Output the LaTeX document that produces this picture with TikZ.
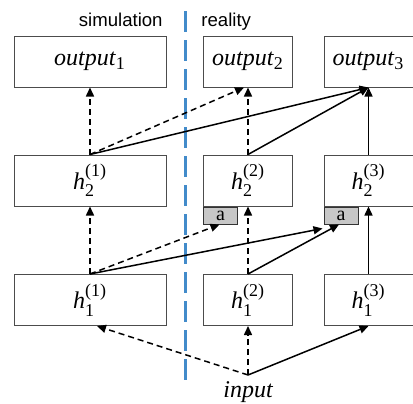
\documentclass[tikz,border=0pt]{standalone}
\usepackage{amsmath}
\usepackage{fontspec}
\setmainfont{Liberation Serif}
\setsansfont{Liberation Sans}
\usetikzlibrary{arrows.meta}

\newcommand{\up}[1]{\mbox{\fontsize{9}{9}\selectfont\upshape #1}}

\begin{document}
\begin{tikzpicture}[x=0.5pt, y=-0.5pt,
  % Node styles
  ob/.style={draw=black!70, line width=0.5pt, minimum width=76pt, minimum height=25.5pt,
             font=\fontsize{12}{14}\selectfont, fill=white, inner sep=0pt},
  nb/.style={ob, minimum width=44.5pt},
  ad/.style={draw=black!80, line width=0.5pt, fill=black!22, minimum width=17pt,
             minimum height=8.5pt, inner sep=0pt, font=\fontsize{10}{10}\selectfont},
  % Arrow styles (simulated paths dashed, real paths solid)
  real/.style={-{Triangle[length=4.5pt, width=4pt]}, line width=0.75pt, black},
  sim/.style={real, dash pattern=on 3pt off 2pt},
  % Label style
  lbl/.style={font=\sffamily\fontsize{9.3}{11}\selectfont, inner sep=0pt},
  divider/.style={line width=1.5pt, color={rgb,255:red,66;green,139;blue,202},
                  dash pattern=on 10.5pt off 4pt},
]
\useasboundingbox (0,0) rectangle (413,403);

% === Divider between simulation and reality ===
\coordinate (dtop) at (185,11);
\coordinate (dbot) at (185,382);
\draw[divider] (dtop) -- (dbot);
\node[lbl, anchor=base east] (simlbl) at (163,26) {simulation};
\node[lbl, anchor=base west] (reallbl) at (201,26) {reality};

% === Row 1: outputs ===
\node[ob] (out1) at (90, 61.5)  {\textit{output}$_{\up{1}}$};
\node[nb] (out2) at (248, 61.5) {\textit{output}$_{\up{2}}$};
\node[nb] (out3) at (368.5, 61.5) {\textit{output}$_{\up{3}}$};

% === Row 2: second layer ===
\node[ob] (h21) at (90, 180.5)  {$\textit{h}_{\up{2}}^{\up{(1)}}$};
\node[nb] (h22) at (248, 180.5) {$\textit{h}_{\up{2}}^{\up{(2)}}$};
\node[nb] (h23) at (368.5, 180.5) {$\textit{h}_{\up{2}}^{\up{(3)}}$};

% adapters
\node[ad, anchor=north west] (a2) at (h22.south west) {a};
\node[ad, anchor=north west] (a3) at (h23.south west) {a};

% === Row 3: first layer ===
\node[ob] (h11) at (90, 300)  {$\textit{h}_{\up{1}}^{\up{(1)}}$};
\node[nb] (h12) at (248, 300) {$\textit{h}_{\up{1}}^{\up{(2)}}$};
\node[nb] (h13) at (368.5, 300) {$\textit{h}_{\up{1}}^{\up{(3)}}$};

% input
\node[font=\fontsize{12}{14}\selectfont\itshape, inner sep=3pt, anchor=north] (in) at (248,375) {input};

% === input -> first layer ===
\draw[sim]  (in.north) -- ([xshift=3.5pt]h11.south);
\draw[sim]  (in.north) -- (h12.south);
\draw[real] (in.north) -- (h13.south);

% === first layer -> second layer ===
\draw[sim]  (h11.north) -- (h21.south);
\draw[sim]  (h11.north) -- ([xshift=-0.5pt]a2.south);
\draw[real] (h11.north) -- ([xshift=-0.5pt, yshift=-2pt]a3.south west);
\draw[sim]  (h12.north) -- (h22.south);
\draw[real] (h12.north) -- ([xshift=-1pt]a3.south);
\draw[real] (h13.north) -- (h23.south);

% === second layer -> outputs ===
\draw[sim]  (h21.north) -- (out1.south);
\draw[sim]  (h21.north) -- ([xshift=-2pt]out2.south);
\draw[real] (h21.north) -- (out3.south);
\draw[sim]  (h22.north) -- (out2.south);
\draw[real] (h22.north) -- (out3.south);
\draw[real] (h23.north) -- (out3.south);

\end{tikzpicture}
\end{document}
